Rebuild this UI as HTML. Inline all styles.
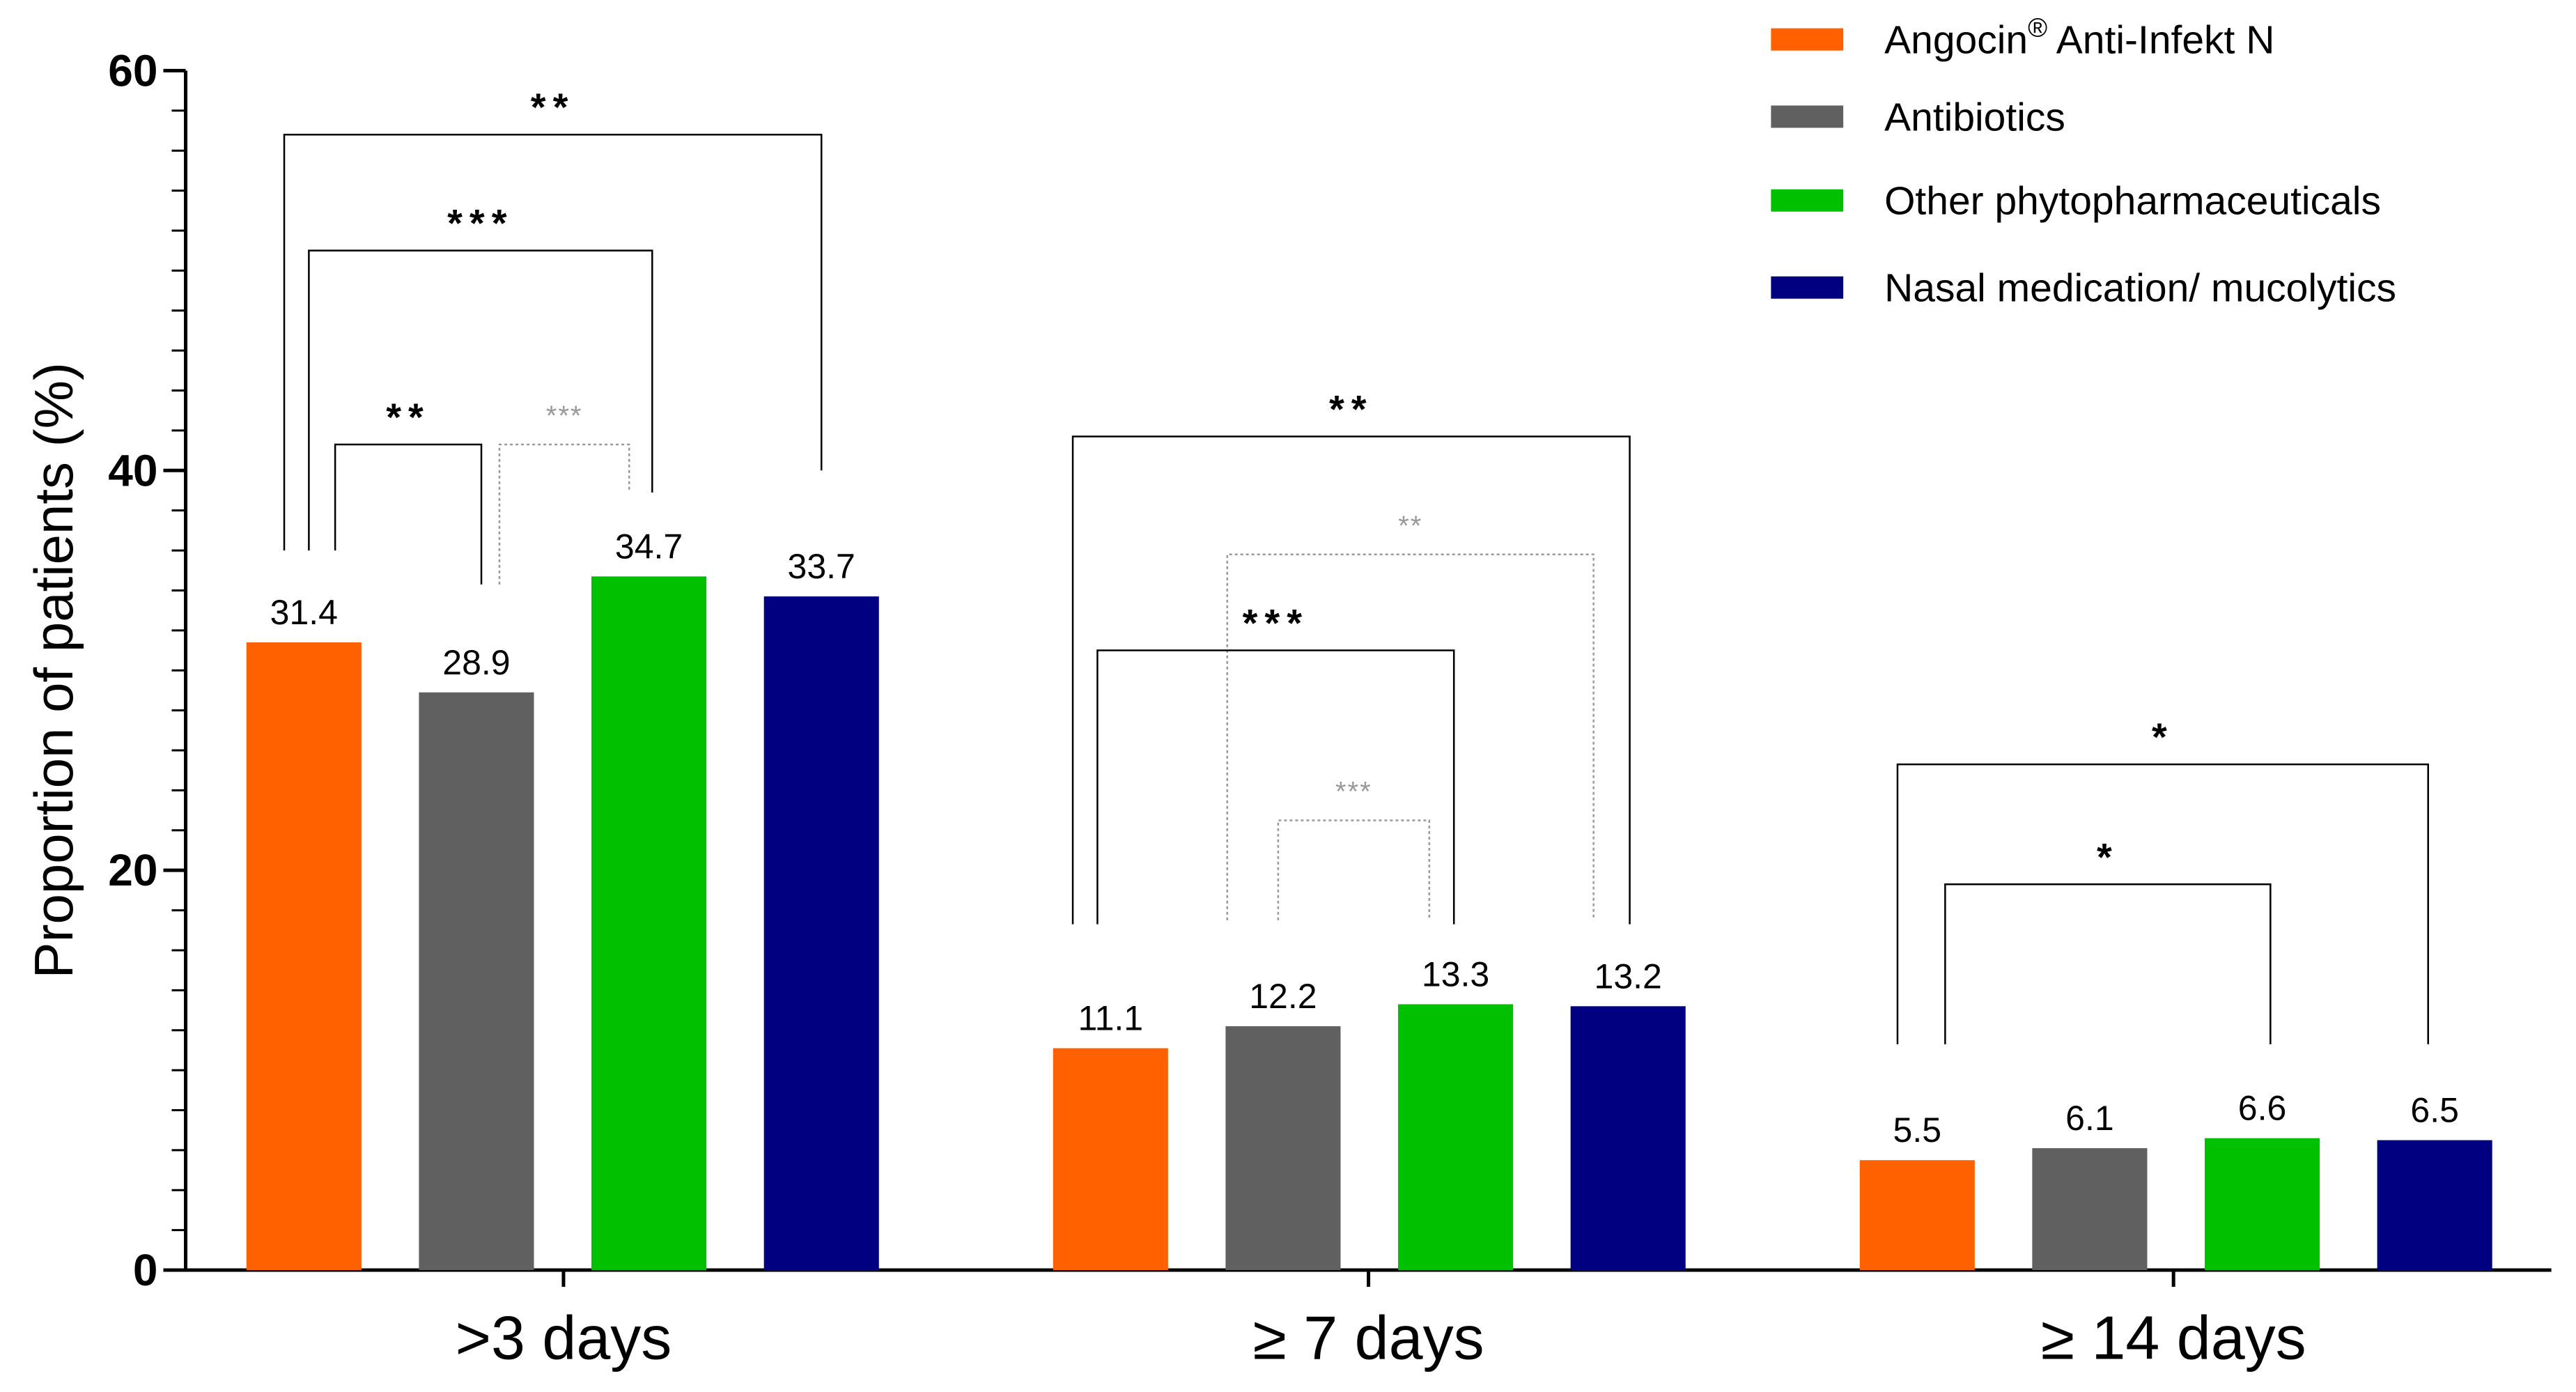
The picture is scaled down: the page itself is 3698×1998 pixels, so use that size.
<!DOCTYPE html>
<html><head><meta charset="utf-8"><style>
html,body{margin:0;padding:0;background:#fff;}
svg{display:block;font-family:"Liberation Sans",Arial,sans-serif;}
</style></head><body>
<svg id="chart" width="3698" height="1998" viewBox="0 0 3698 1998" xmlns="http://www.w3.org/2000/svg">
<g id="layer"></g>
</svg>
<script>
const categories = [">3 days", "\u2265 7 days", "\u2265 14 days"];
const seriesNames = ["Angocin\u00AE Anti-Infekt N", "Antibiotics", "Other phytopharmaceuticals", "Nasal medication/ mucolytics"];
const angocin = [31.4, 11.1, 5.5];
const antibiotics = [28.9, 12.2, 6.1];
const otherPhyto = [34.7, 13.3, 6.6];
const nasal = [33.7, 13.2, 6.5];
const yTicks = [0, 20, 40, 60];

const S = 3698/1568;
const colors = ["#ff6000", "#606060", "#00c000", "#000080"];
const series = [angocin, antibiotics, otherPhyto, nasal];
const NS = "http://www.w3.org/2000/svg";
const layer = document.getElementById('layer');
const y0 = 773*S, yTop = 43*S;
function y(v){ return y0 - v/60*(y0 - yTop); }
function barX(g, s){ return (150 + g*491 + s*105)*S; }
const barW = 70*S;
function mk(tag, attrs, parent){
  const e = document.createElementNS(NS, tag);
  for (const k in attrs) e.setAttribute(k, attrs[k]);
  (parent||layer).appendChild(e);
  return e;
}
const ax = mk('line',{x1:113*S,y1:yTop,x2:113*S,y2:y0+1,stroke:'#000','stroke-width':5});


const xax = mk('line',{x1:113*S-2,y1:y0,x2:1553*S,y2:y0,stroke:'#000','stroke-width':5});


for (let v=0; v<=60; v+=2){
  const major = v%20===0;
  const t = mk('line',{x1:113*S-(major?32:20),y1:y(v),x2:113*S,y2:y(v),stroke:'#000','stroke-width':major?5:3});
  
  
}
yTicks.forEach(v=>{
  const t = mk('text',{x:96*S,y:y(v)+22,'text-anchor':'end','font-size':64,'font-weight':'bold'});
  t.textContent = v;
  
  
});
const yt = mk('text',{x:0,y:0,'text-anchor':'middle','font-size':78,transform:`translate(${44*S},${408*S}) rotate(-90)`});
yt.textContent = 'Proportion of patients (%)';


categories.forEach((c,g)=>{
  series.forEach((arr,s)=>{
    const v = arr[g];
    const r = mk('rect',{x:barX(g,s),y:y(v),width:barW,height:y0-y(v),fill:colors[s]});
    
    
    const t = mk('text',{x:barX(g,s)+barW/2,y:y(v)-26,'text-anchor':'middle','font-size':50});
    t.textContent = v.toFixed(1);
    
    
  });
  const cx = (343 + g*490)*S;
  const tk = mk('line',{x1:cx,y1:y0,x2:cx,y2:y0+24,stroke:'#000','stroke-width':5});
  
  
  const ct = mk('text',{x:cx,y:827*S,'text-anchor':'middle','font-size':88});
  ct.textContent = c;
  
  
});
const brackets = [
  [173,500,56.8,36.0,40.0,'**',false],
  [188,397,51.0,36.0,38.9,'***',false],
  [204,293,41.3,36.0,34.3,'**',false],
  [304,383,41.3,34.3,38.9,'***',true],
  [653,992,41.7,17.3,17.3,'**',false],
  [747,970,35.8,17.5,17.5,'**',true],
  [668,885,31.0,17.3,17.3,'***',false],
  [778,870,22.5,17.5,17.5,'***',true],
  [1155,1478,25.3,11.3,11.3,'*',false],
  [1184,1382,19.3,11.3,11.3,'*',false]
];
brackets.forEach(b=>{
  const [a,c,top,lb,rb,lab,gray]=b;
  const p = mk('path',{d:`M${a*S},${y(lb)} V${y(top)} H${c*S} V${y(rb)}`,fill:'none',stroke:gray?'#999':'#000','stroke-width':2.5,'stroke-dasharray':gray?'4 4':'none'});
  
  
  const t = mk('text',{x:(a+c)/2*S,y:y(top)-(gray?28:20),'text-anchor':'middle','font-size':gray?40:56,'font-weight':gray?'normal':'bold',fill:gray?'#999':'#000','letter-spacing':gray?2:10});
  t.textContent = lab;
  
  
});
const legY = [24,71,122,175];
seriesNames.forEach((n,i)=>{
  const r = mk('rect',{x:1078*S,y:legY[i]*S-16,width:44*S,height:32,fill:colors[i]});
  
  
  const t = mk('text',{x:1147*S,y:legY[i]*S+20,'font-size':57});
  if (i===0){
    t.innerHTML = 'Angocin<tspan dy="-24" font-size="38">\u00AE</tspan><tspan dy="24"> Anti-Infekt N</tspan>';
  } else t.textContent = n;
  
  
});
</script>
</body></html>
